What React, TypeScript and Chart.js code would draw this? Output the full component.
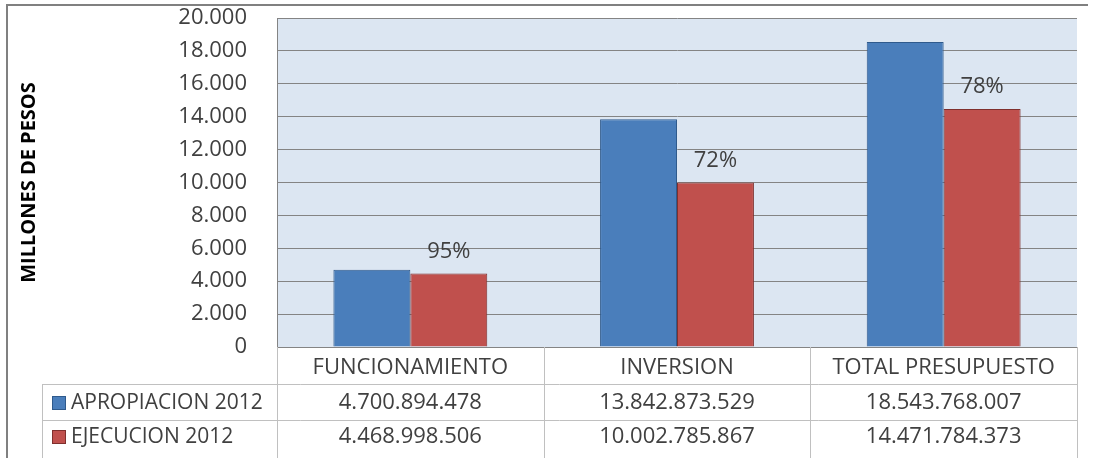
import React, { useEffect, useRef } from "react";
import { Chart, registerables } from "chart.js";

Chart.register(...registerables);

const categories = ["FUNCIONAMIENTO", "INVERSION", "TOTAL PRESUPUESTO"];
const seriesNames = ["APROPIACION 2012", "EJECUCION 2012"];
// values in millions of pesos
const apropiacion = [4700.894478, 13842.873529, 18543.768007];
const ejecucion = [4468.998506, 10002.785867, 14471.784373];
// table cell texts (full pesos)
const apropiacionText = ["4.700.894.478", "13.842.873.529", "18.543.768.007"];
const ejecucionText = ["4.468.998.506", "10.002.785.867", "14.471.784.373"];
const yTicks = [0, 2000, 4000, 6000, 8000, 10000, 12000, 14000, 16000, 18000, 20000];

const BLUE = "#4a7ebb";
const BLUE_BORDER = "#2f5a8c";
const RED = "#c0504d";
const RED_BORDER = "#7f2f2d";
const TEXT = "#404040";
const FONT = "'Open Sans', 'Noto Sans', sans-serif";
const FS = 22;

const fmt = (v: number) =>
  Math.round(v)
    .toString()
    .replace(/\B(?=(\d{3})+(?!\d))/g, ".");

const tablePlugin = {
  id: "dataTable",
  beforeDraw(chart: any) {
    const { ctx, chartArea } = chart;
    ctx.save();
    ctx.fillStyle = "#ffffff";
    ctx.fillRect(0, 0, chart.width, chart.height);
    ctx.fillStyle = "#dce6f2";
    ctx.fillRect(chartArea.left, chartArea.top, chartArea.right - chartArea.left, chartArea.bottom - chartArea.top);
    // outer chart border
    ctx.strokeStyle = "#808080";
    ctx.lineWidth = 2;
    ctx.beginPath();
    ctx.moveTo(7, 458);
    ctx.lineTo(7, 5);
    ctx.lineTo(1088, 5);
    ctx.stroke();
    ctx.restore();
  },
  afterDraw(chart: any) {
    const { ctx, chartArea } = chart;
    const xs = chart.scales.x;
    const n = categories.length;
    const cw = (chartArea.right - chartArea.left) / n;
    const row1Top = chartArea.bottom;
    const row2Top = 384;
    const row3Top = 420;
    const bottom = 460;
    const tableLeft = 42;
    ctx.save();
    ctx.strokeStyle = "#c0c0c0";
    ctx.lineWidth = 1;
    ctx.beginPath();
    for (let i = 0; i <= n; i++) {
      const x = Math.round(chartArea.left + i * cw) + 0.5;
      ctx.moveTo(x, row1Top);
      ctx.lineTo(x, bottom);
    }
    ctx.moveTo(tableLeft + 0.5, row2Top);
    ctx.lineTo(tableLeft + 0.5, bottom);
    ctx.moveTo(tableLeft, row2Top + 0.5);
    ctx.lineTo(chartArea.right, row2Top + 0.5);
    ctx.moveTo(tableLeft, row3Top + 0.5);
    ctx.lineTo(chartArea.right, row3Top + 0.5);
    ctx.stroke();

    ctx.font = `${FS}px ${FONT}`;
    ctx.fillStyle = TEXT;
    ctx.textAlign = "center";
    ctx.textBaseline = "middle";
    const rows = [apropiacionText, ejecucionText];
    const rowCenters = [403, 437];
    rows.forEach((row, r) => {
      row.forEach((t, i) => {
        const x = xs.getPixelForValue(i);
        ctx.fillText(t, x, rowCenters[r]);
      });
    });
    // legend keys
    const keyColors = [BLUE, RED];
    const keyBorders = [BLUE_BORDER, RED_BORDER];
    ctx.font = `21px ${FONT}`;
    seriesNames.forEach((name, r) => {
      const cy = rowCenters[r];
      ctx.fillStyle = keyColors[r];
      ctx.fillRect(52, cy - 7, 14, 14);
      ctx.strokeStyle = keyBorders[r];
      ctx.strokeRect(52.5, cy - 6.5, 13, 13);
      ctx.fillStyle = TEXT;
      ctx.textAlign = "left";
      ctx.fillText(name, 71, cy);
    });

    // percentage labels above red bars
    ctx.font = `${FS}px ${FONT}`;
    const meta = chart.getDatasetMeta(1);
    ctx.textAlign = "center";
    ctx.fillStyle = TEXT;
    meta.data.forEach((bar: any, i: number) => {
      const pct = Math.round((ejecucion[i] / apropiacion[i]) * 100) + "%";
      ctx.fillText(pct, bar.x, bar.y - 22);
    });
    ctx.restore();
  },
};

export default function App() {
  const ref = useRef<HTMLCanvasElement>(null);
  useEffect(() => {
    const chart = new Chart(ref.current!, {
      type: "bar",
      data: {
        labels: categories,
        datasets: [
          {
            label: seriesNames[0],
            data: apropiacion,
            backgroundColor: BLUE,
            borderColor: BLUE_BORDER,
            borderWidth: 1,
            categoryPercentage: 0.577,
            barPercentage: 1,
          },
          {
            label: seriesNames[1],
            data: ejecucion,
            backgroundColor: RED,
            borderColor: RED_BORDER,
            borderWidth: 1,
            categoryPercentage: 0.577,
            barPercentage: 1,
          },
        ],
      },
      options: {
        animation: false,
        responsive: false,
        layout: { padding: { top: 18, right: 17, bottom: 74, left: 0 } },
        plugins: {
          legend: { display: false },
          tooltip: { enabled: false },
        },
        scales: {
          x: {
            grid: { display: false, drawTicks: false },
            border: { display: false },
            ticks: {
              color: TEXT,
              font: { family: FONT, size: FS },
              padding: 8,
              maxRotation: 0,
              autoSkip: false,
            },
            afterFit: (s: any) => {
              s.height = 37;
              s.paddingLeft = 0;
              s.paddingRight = 0;
            },
          },
          y: {
            min: 0,
            max: 20000,
            afterBuildTicks: (s: any) => {
              s.ticks = yTicks.map((v) => ({ value: v }));
            },
            grid: { color: "#848484", lineWidth: 1, drawTicks: false },
            border: { display: true, color: "#848484" },
            ticks: {
              color: TEXT,
              font: { family: FONT, size: FS },
              padding: 30,
              callback: (v: any) => fmt(Number(v)),
            },
            title: {
              display: true,
              text: "MILLONES DE PESOS",
              color: "#000000",
              font: { family: FONT, size: 20, weight: "bold" },
              padding: { top: 17, bottom: 0 },
            },
            afterFit: (s: any) => {
              s.width = 277;
              s.paddingTop = 0;
              s.paddingBottom = 0;
            },
          },
        },
      },
      plugins: [tablePlugin],
    });
    return () => chart.destroy();
  }, []);
  return (
    <div style={{ position: "absolute", left: 0, top: 0, width: 1094, height: 458, overflow: "hidden" }}>
      <canvas ref={ref} width={1094} height={458} style={{ display: "block" }} />
    </div>
  );
}
